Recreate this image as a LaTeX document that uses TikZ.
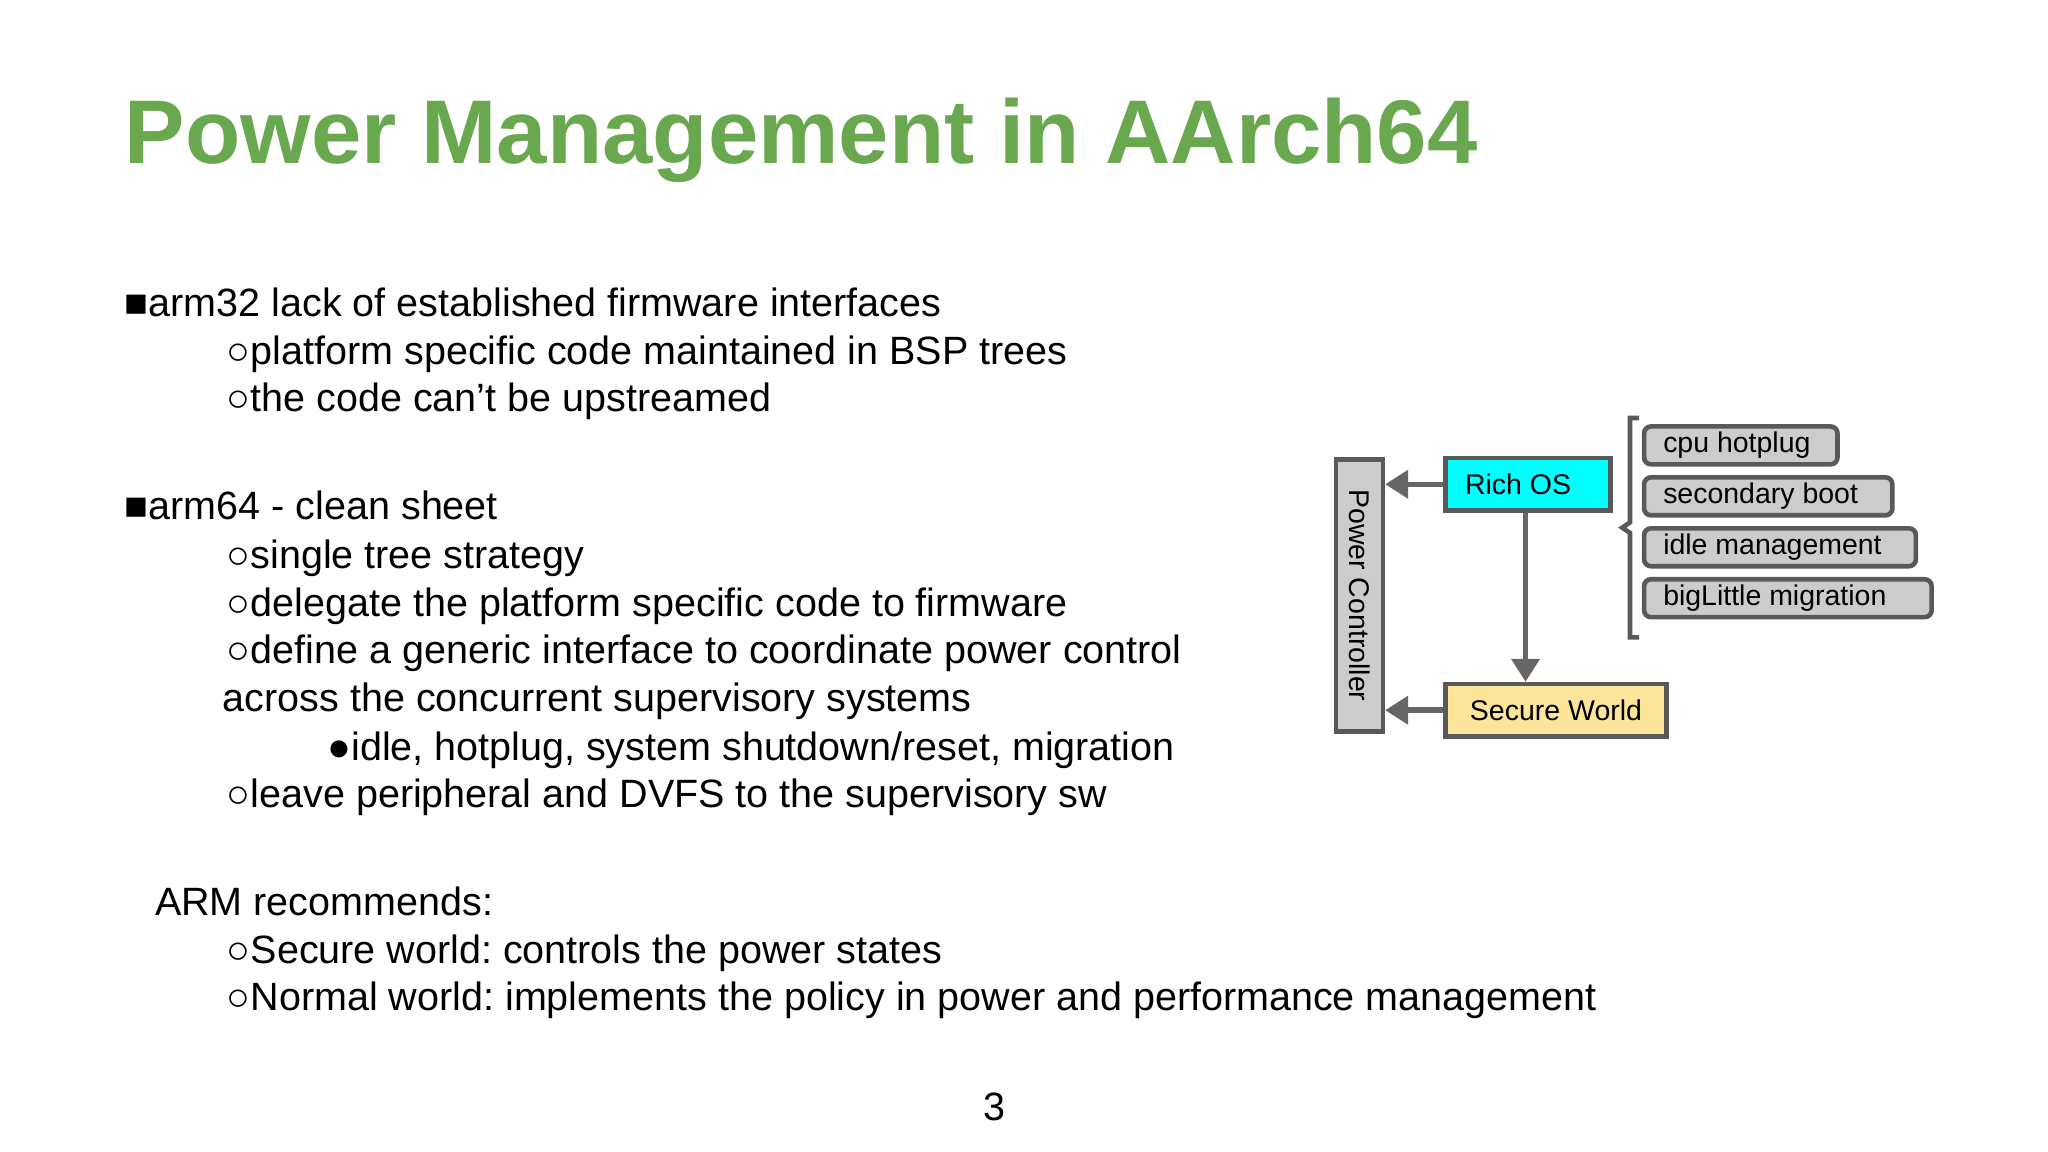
\documentclass[tikz,border=0pt]{standalone}
\usepackage{fontspec}
\setmainfont{Liberation Sans}
\usetikzlibrary{arrows.meta}
\begin{document}
\frenchspacing
\begin{tikzpicture}[x=0.01cm,y=-0.01cm,
  txt/.style={anchor=base west,inner sep=0pt,font=\fontsize{8.6pt}{10pt}\selectfont},
  dtxt/.style={font=\fontsize{6.2pt}{7pt}\selectfont},
  pbox/.style={draw=black!65,line width=1pt,minimum height=0.4cm,inner sep=0pt},
  gbox/.style={draw=black!65,line width=1pt,fill=black!20,rounded corners=1.5pt,minimum height=0.29cm,anchor=west,inner sep=0pt},
  arr/.style={draw=black!60,line width=1.2pt,-{Triangle[length=5pt,width=6pt]}}]
\useasboundingbox (0,0) rectangle (1568,882);
\definecolor{ttl}{RGB}{106,168,79}
\definecolor{cyn}{RGB}{0,255,255}
\node[anchor=base west,inner sep=0pt,text=ttl,font=\fontsize{19.7pt}{24pt}\selectfont\bfseries] (title) at (95,125) {Power Management in AArch64};
\node[txt] (l1) at (95,242) {■arm32 lack of established firmware interfaces};
\node[txt] (l2) at (173,279) {○platform specific code maintained in BSP trees};
\node[txt] (l3) at (173,315) {○the code can’t be upstreamed};
\node[txt] (l4) at (95,398) {■arm64 - clean sheet};
\node[txt] (l5) at (173,435) {○single tree strategy};
\node[txt] (l6) at (173,472) {○delegate the platform specific code to firmware};
\node[txt] (l7) at (173,508) {○define a generic interface to coordinate power control};
\node[txt] (l8) at (170,545) {across the concurrent supervisory systems};
\node[txt] (l9) at (250,582) {●idle, hotplug, system shutdown/reset, migration};
\node[txt] (l10) at (173,618) {○leave peripheral and DVFS to the supervisory sw};
\node[txt] (l11) at (118,701) {ARM recommends:};
\node[txt] (l12) at (173,738) {○Secure world: controls the power states};
\node[txt] (l13) at (173,774) {○Normal world: implements the policy in power and performance management};
\node[txt] (pg) at (752,858) {3};
% diagram
\node[pbox,fill=black!20,minimum width=0.36cm,minimum height=2.08cm,anchor=north west] (pc) at (1021,350) {};
\node[dtxt,rotate=-90] at (pc.center) {Power Controller};
\node[pbox,fill=cyn,minimum width=1.26cm,anchor=north west,dtxt] (rich) at (1105,349) {\hspace*{-0.15cm}Rich OS};
\node[pbox,fill={rgb,255:red,253;green,230;blue,153},minimum width=1.69cm,anchor=north west,dtxt] (sec) at (1105,522) {Secure World};
\draw[arr] (rich.west) -- (rich.west -| pc.east);
\draw[arr] (sec.west) -- (sec.west -| pc.east);
\draw[arr] (rich.south -| 1168,0) -- (sec.north -| 1168,0);
\node[gbox,minimum width=1.48cm] (g1) at (1257,341) {};
\node[gbox,minimum width=1.90cm] (g2) at (1257,380) {};
\node[gbox,minimum width=2.08cm] (g3) at (1257,419) {};
\node[gbox,minimum width=2.20cm] (g4) at (1257,458) {};
\foreach \n/\t in {g1/cpu hotplug,g2/secondary boot,g3/idle management,g4/bigLittle migration}
  \node[dtxt,anchor=west] at ([xshift=0.04cm]\n.west) {\t};
\draw[black!65,line width=1pt] (1255,320) -- (1248,320) -- (1248,400) -- (1242,404) -- (1248,408) -- (1248,488) -- (1255,488);
\end{tikzpicture}
\end{document}
